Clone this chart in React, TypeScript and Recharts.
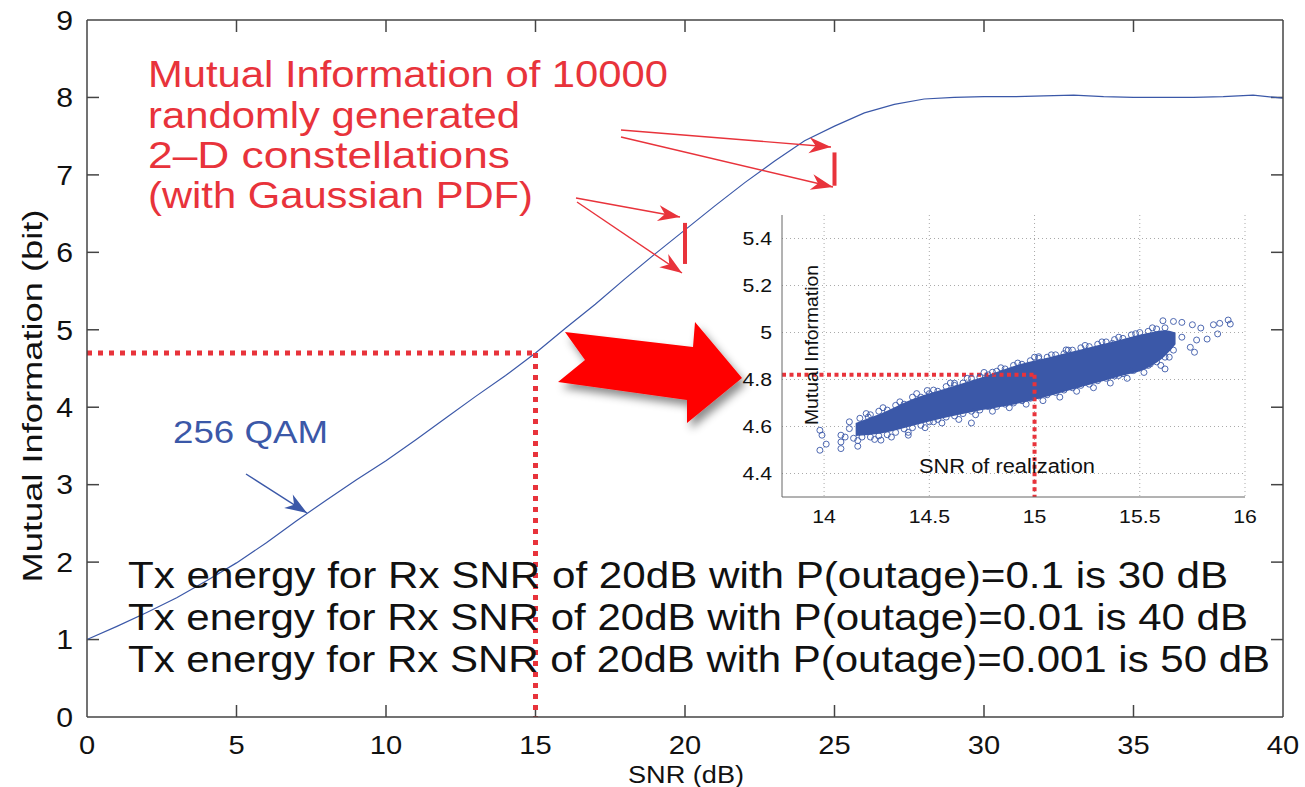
import {
  ComposedChart,
  Line,
  Area,
  Scatter,
  XAxis,
  YAxis,
  CartesianGrid,
  ReferenceLine,
} from 'recharts';

// main curve: 256 QAM mutual information vs SNR
const snrDb = [0, 1, 2, 3, 4, 5, 6, 7, 8, 9, 10, 11, 12, 13, 14, 15, 16, 17, 18, 19, 20, 21, 22, 23, 24, 25, 26, 27, 28, 29, 30, 31, 32, 33, 34, 35, 36, 37, 38, 39, 40];
const mi256Qam = [1.0, 1.17, 1.35, 1.54, 1.76, 1.99, 2.25, 2.53, 2.8, 3.06, 3.31, 3.58, 3.86, 4.14, 4.41, 4.7, 5.02, 5.33, 5.66, 5.98, 6.29, 6.6, 6.9, 7.18, 7.44, 7.63, 7.8, 7.91, 7.98, 8.0, 8.01, 8.01, 8.02, 8.03, 8.01, 8.0, 8.0, 8.0, 8.01, 8.03, 7.99];

const xTicks = [0, 5, 10, 15, 20, 25, 30, 35, 40];
const yTicks = [0, 1, 2, 3, 4, 5, 6, 7, 8, 9];

// spread of MI over the random constellations (min, max) at 20 and 25 dB
const spreadSnr = [20, 25];
const spreadLow = [5.85, 6.86];
const spreadHigh = [6.38, 7.29];

// operating point
const opSnr = 15;
const opMi = 4.7;

// inset: MI of each realization vs realized SNR
const insetXTicks = [14, 14.5, 15, 15.5, 16];
const insetYTicks = [4.4, 4.6, 4.8, 5, 5.2, 5.4];
const insetOpMi = 4.82;

// dense core of the cloud
const coreSnr = [14.15, 14.27, 14.43, 14.59, 14.75, 14.91, 15.07, 15.23, 15.39, 15.55, 15.62, 15.67];
const coreLow = [4.56, 4.57, 4.605, 4.64, 4.67, 4.695, 4.73, 4.77, 4.81, 4.855, 4.9, 4.95];
const coreHigh = [4.615, 4.655, 4.72, 4.765, 4.81, 4.86, 4.895, 4.93, 4.965, 5.0, 5.01, 5.0];

// circles along the edges of the cloud
const upperSnr = [14.12, 14.17, 14.22, 14.26, 14.3, 14.34, 14.38, 14.42, 14.46, 14.5, 14.54, 14.58, 14.62, 14.66, 14.7, 14.74, 14.78, 14.82, 14.86, 14.9, 14.94, 14.98, 15.02, 15.06, 15.1, 15.14, 15.18, 15.22, 15.26, 15.3, 15.34, 15.38, 15.42, 15.46, 15.5, 15.54, 15.58, 15.62];
const upperMi = [4.62, 4.635, 4.65, 4.665, 4.67, 4.69, 4.695, 4.725, 4.725, 4.74, 4.75, 4.77, 4.775, 4.785, 4.805, 4.81, 4.82, 4.835, 4.845, 4.86, 4.865, 4.88, 4.89, 4.895, 4.905, 4.91, 4.925, 4.935, 4.94, 4.95, 4.96, 4.97, 4.975, 4.99, 5.0, 5.005, 5.015, 5.02];
const upperOuterSnr = [14.2, 14.28, 14.36, 14.44, 14.52, 14.6, 14.68, 14.76, 14.84, 14.92, 15.0, 15.08, 15.16, 15.24, 15.32, 15.4, 15.48, 15.56];
const upperOuterMi = [4.655, 4.68, 4.705, 4.74, 4.755, 4.785, 4.805, 4.83, 4.85, 4.87, 4.895, 4.905, 4.925, 4.945, 4.96, 4.98, 4.995, 5.02];
const lowerSnr = [14.1, 14.14, 14.18, 14.22, 14.26, 14.3, 14.34, 14.38, 14.42, 14.46, 14.5, 14.54, 14.58, 14.62, 14.66, 14.7, 14.74, 14.78, 14.82, 14.86, 14.9, 14.94, 14.98, 15.02, 15.06, 15.1, 15.14, 15.18, 15.22, 15.26, 15.3, 15.34, 15.38, 15.42, 15.46, 15.5, 15.54, 15.58, 15.62, 15.66];
const lowerMi = [4.555, 4.55, 4.555, 4.555, 4.56, 4.565, 4.575, 4.59, 4.595, 4.605, 4.62, 4.63, 4.64, 4.645, 4.655, 4.665, 4.67, 4.685, 4.685, 4.695, 4.7, 4.71, 4.72, 4.73, 4.735, 4.745, 4.755, 4.765, 4.775, 4.78, 4.795, 4.805, 4.815, 4.825, 4.84, 4.855, 4.86, 4.875, 4.895, 4.925];
const lowerOuterSnr = [14.16, 14.24, 14.32, 14.4, 14.48, 14.56, 14.64, 14.72, 14.8, 14.88, 14.96, 15.04, 15.12, 15.2, 15.28, 15.36, 15.44, 15.52, 15.6, 15.64];
const lowerOuterMi = [4.54, 4.545, 4.555, 4.575, 4.595, 4.615, 4.63, 4.65, 4.665, 4.68, 4.695, 4.71, 4.725, 4.75, 4.765, 4.785, 4.805, 4.83, 4.86, 4.895];
const outlierSnr = [13.98, 13.99, 13.98, 14.01, 14.08, 14.08, 14.08, 14.16, 14.21, 14.12, 14.4, 14.7, 14.8, 15.02, 15.15, 15.37, 15.61, 15.66, 15.7, 15.75, 15.79, 15.85, 15.88, 15.92, 15.93, 15.87, 15.82, 15.77, 15.76, 15.62, 15.55, 15.47, 15.4, 15.7, 15.74, 14.52, 14.27, 14.49, 14.62];
const outlierMi = [4.584, 4.563, 4.499, 4.525, 4.534, 4.506, 4.563, 4.516, 4.64, 4.591, 4.563, 4.615, 4.831, 4.897, 4.926, 4.954, 5.05, 5.047, 5.043, 5.033, 5.019, 5.033, 5.039, 5.053, 5.036, 4.994, 4.972, 4.968, 4.916, 4.845, 4.866, 4.838, 4.817, 4.98, 4.937, 4.62, 4.542, 4.753, 4.784];

const FONT = '"Liberation Sans", Arial, Helvetica, sans-serif';
const STRETCH = 1.12;
const BLUE = '#3b58a8';
const RED = '#e8333b';
const AXIS = '#444';

// main plot area is 1196 x 697 px; ticks are drawn 12 px long, inward
const TICK_DX = (12 * 40) / 1196;
const TICK_DY = (12 * 9) / 697;

const curveData = snrDb.map((s, i) => ({ snr: s, mi: mi256Qam[i] }));
const coreData = coreSnr.map((s, i) => ({ x: s, band: [coreLow[i], coreHigh[i]] }));
const pairs = (xs: number[], ys: number[]) => xs.map((s, i) => ({ x: s, y: ys[i] }));
const cloudData = [
  ...pairs(upperSnr, upperMi),
  ...pairs(upperOuterSnr, upperOuterMi),
  ...pairs(lowerSnr, lowerMi),
  ...pairs(lowerOuterSnr, lowerOuterMi),
  ...pairs(outlierSnr, outlierMi),
];

function makeTick(size: number, anchor: 'start' | 'middle' | 'end', dy: string) {
  return (props: any) => {
    const { x, y, payload } = props;
    return (
      <text
        x={0}
        y={0}
        dy={dy}
        textAnchor={anchor}
        fontSize={size}
        fontFamily={FONT}
        fill="#111"
        transform={`translate(${x},${y}) scale(${STRETCH},1)`}
      >
        {payload.value}
      </text>
    );
  };
}

const Ring = (props: any) => (
  <circle cx={props.cx} cy={props.cy} r={3} fill="none" stroke={BLUE} strokeWidth={0.9} />
);

function arrowHead(x1: number, y1: number, x2: number, y2: number, len: number, half: number) {
  const dx = x2 - x1;
  const dy = y2 - y1;
  const d = Math.hypot(dx, dy);
  const ux = dx / d;
  const uy = dy / d;
  const bx = x2 - ux * len;
  const by = y2 - uy * len;
  const nx = x2 - ux * len * 0.7;
  const ny = y2 - uy * len * 0.7;
  return `${x2},${y2} ${bx - uy * half},${by + ux * half} ${nx},${ny} ${bx + uy * half},${by - ux * half}`;
}

function Arrow({ x1, y1, x2, y2, color }: { x1: number; y1: number; x2: number; y2: number; color: string }) {
  return (
    <g>
      <line x1={x1} y1={y1} x2={x2} y2={y2} stroke={color} strokeWidth={1.4} />
      <polygon points={arrowHead(x1, y1, x2, y2, 22, 8)} fill={color} />
    </g>
  );
}

function Txt({ x, y, len, size, color, children }: any) {
  return (
    <text x={x} y={y} fontSize={size} fontFamily={FONT} fill={color} textLength={len} lengthAdjust="spacingAndGlyphs">
      {children}
    </text>
  );
}

const tickStroke = { stroke: AXIS, strokeWidth: 1.5 };

function MainChart() {
  return (
    <ComposedChart width={1305} height={787} data={curveData} margin={{ top: 19, right: 21, bottom: 0, left: 0 }}>
      <XAxis
        dataKey="snr"
        type="number"
        domain={[0, 40]}
        ticks={xTicks}
        interval={0}
        height={70}
        axisLine={tickStroke}
        tickLine={false}
        tickMargin={12}
        tick={makeTick(26, 'middle', '0.72em')}
      />
      <XAxis
        xAxisId="top"
        orientation="top"
        dataKey="snr"
        type="number"
        domain={[0, 40]}
        height={1}
        axisLine={tickStroke}
        tickLine={false}
        tick={false}
      />
      <YAxis
        type="number"
        domain={[0, 9]}
        ticks={yTicks}
        interval={0}
        width={87}
        axisLine={tickStroke}
        tickLine={false}
        tickMargin={8}
        tick={makeTick(27, 'end', '0.36em')}
      />
      <YAxis
        yAxisId="right"
        orientation="right"
        type="number"
        domain={[0, 9]}
        width={1}
        axisLine={tickStroke}
        tickLine={false}
        tick={false}
      />
      {xTicks.slice(1, -1).map((t) => (
        <ReferenceLine key={`b${t}`} segment={[{ x: t, y: 0 }, { x: t, y: TICK_DY }]} {...tickStroke} />
      ))}
      {xTicks.slice(1, -1).map((t) => (
        <ReferenceLine key={`t${t}`} segment={[{ x: t, y: 9 }, { x: t, y: 9 - TICK_DY }]} {...tickStroke} />
      ))}
      {yTicks.slice(1, -1).map((t) => (
        <ReferenceLine key={`l${t}`} segment={[{ x: 0, y: t }, { x: TICK_DX, y: t }]} {...tickStroke} />
      ))}
      {yTicks.slice(1, -1).map((t) => (
        <ReferenceLine key={`r${t}`} segment={[{ x: 40, y: t }, { x: 40 - TICK_DX, y: t }]} {...tickStroke} />
      ))}
      <Line dataKey="mi" type="linear" stroke={BLUE} strokeWidth={1.2} dot={false} isAnimationActive={false} />
      <ReferenceLine
        segment={[{ x: 0, y: opMi }, { x: opSnr, y: opMi }]}
        stroke={RED}
        strokeWidth={5}
        strokeDasharray="5 6"
      />
      <ReferenceLine
        segment={[{ x: opSnr, y: opMi }, { x: opSnr, y: 0 }]}
        stroke={RED}
        strokeWidth={5}
        strokeDasharray="5 6"
      />
      {spreadSnr.map((s, i) => (
        <ReferenceLine
          key={s}
          segment={[{ x: s, y: spreadLow[i] }, { x: s, y: spreadHigh[i] }]}
          stroke={RED}
          strokeWidth={4}
        />
      ))}
    </ComposedChart>
  );
}

function InsetChart() {
  return (
    <ComposedChart width={560} height={330} data={coreData} margin={{ top: 15, right: 15, bottom: 0, left: 0 }}>
      <CartesianGrid stroke="#aaa" strokeDasharray="1 3" syncWithTicks />
      <XAxis
        dataKey="x"
        type="number"
        domain={[13.8, 16]}
        ticks={insetXTicks}
        interval={0}
        allowDataOverflow
        height={33}
        axisLine={{ stroke: '#666' }}
        tickLine={false}
        tickMargin={6}
        tick={makeTick(19, 'middle', '0.72em')}
      />
      <YAxis
        type="number"
        domain={[4.3, 5.5]}
        ticks={insetYTicks}
        interval={0}
        allowDataOverflow
        width={82}
        axisLine={{ stroke: '#666' }}
        tickLine={false}
        tickMargin={4}
        tick={makeTick(19, 'end', '0.36em')}
      />
      <Area dataKey="band" type="monotone" stroke="none" fill={BLUE} fillOpacity={1} isAnimationActive={false} />
      <Scatter data={cloudData} dataKey="y" shape={Ring} isAnimationActive={false} />
      <ReferenceLine
        segment={[{ x: 13.8, y: insetOpMi }, { x: opSnr, y: insetOpMi }]}
        stroke={RED}
        strokeWidth={4}
        strokeDasharray="4 3.5"
      />
      <ReferenceLine
        segment={[{ x: opSnr, y: insetOpMi }, { x: opSnr, y: 4.3 }]}
        stroke={RED}
        strokeWidth={4}
        strokeDasharray="4 3.5"
      />
    </ComposedChart>
  );
}

function Overlay() {
  return (
    <svg width={1305} height={787} style={{ position: 'absolute', left: 0, top: 0, pointerEvents: 'none' }}>
      <defs>
        <filter id="shadow" x="-20%" y="-20%" width="150%" height="160%">
          <feDropShadow dx="4" dy="6" stdDeviation="4" floodColor="#000" floodOpacity="0.45" />
        </filter>
      </defs>

      {/* axis titles */}
      <Txt x={628} y={783} len={116} size={23} color="#111">SNR (dB)</Txt>
      <text
        transform="translate(42,396) rotate(-90)"
        textAnchor="middle"
        fontSize={27}
        fontFamily={FONT}
        fill="#111"
        textLength={373}
        lengthAdjust="spacingAndGlyphs"
      >
        Mutual Information (bit)
      </text>

      {/* red annotation */}
      <Txt x={148} y={87} len={520} size={37} color={RED}>Mutual Information of 10000</Txt>
      <Txt x={148} y={128} len={372} size={37} color={RED}>randomly generated</Txt>
      <Txt x={148} y={168} len={362} size={37} color={RED}>2–D constellations</Txt>
      <Txt x={148} y={208} len={385} size={37} color={RED}>(with Gaussian PDF)</Txt>
      <Arrow x1={621} y1={130} x2={831} y2={147} color={RED} />
      <Arrow x1={621} y1={137} x2={833} y2={187} color={RED} />
      <Arrow x1={576} y1={198} x2={680} y2={217} color={RED} />
      <Arrow x1={577} y1={202} x2={682} y2={273} color={RED} />

      {/* 256 QAM label */}
      <Txt x={173} y={443} len={155} size={32} color={BLUE}>256 QAM</Txt>
      <Arrow x1={246} y1={474} x2={307} y2={513} color={BLUE} />

      {/* Tx energy lines */}
      <Txt x={128} y={588} len={1100} size={37} color="#111">Tx energy for Rx SNR of 20dB with P(outage)=0.1 is 30 dB</Txt>
      <Txt x={128} y={630} len={1120} size={37} color="#111">Tx energy for Rx SNR of 20dB with P(outage)=0.01 is 40 dB</Txt>
      <Txt x={128} y={672} len={1142} size={37} color="#111">Tx energy for Rx SNR of 20dB with P(outage)=0.001 is 50 dB</Txt>

      {/* big block arrow */}
      <polygon
        points="565,332 693,347 695,322 742,378 687,423 687,400 558,382 585,360"
        fill="#ff0000"
        filter="url(#shadow)"
      />

      {/* inset titles */}
      <text
        transform="translate(811,345) rotate(-90)"
        textAnchor="middle"
        dominantBaseline="central"
        fontSize={19}
        fontFamily={FONT}
        fill="#111"
        textLength={160}
        lengthAdjust="spacingAndGlyphs"
      >
        Mutual Information
      </text>
      <Txt x={919} y={473} len={176} size={20} color="#111">SNR of realization</Txt>
    </svg>
  );
}

export default function App() {
  return (
    <div style={{ position: 'absolute', left: 0, top: 0, width: 1305, height: 787, background: '#fff' }}>
      <MainChart />
      <div style={{ position: 'absolute', left: 700, top: 200 }}>
        <InsetChart />
      </div>
      <Overlay />
    </div>
  );
}
